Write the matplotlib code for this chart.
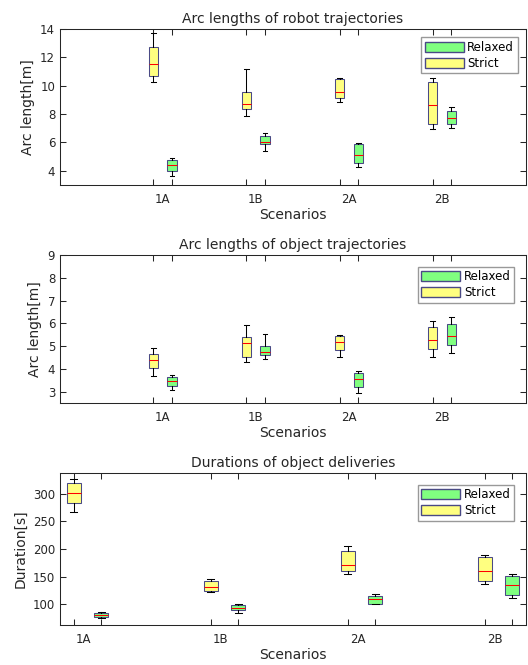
"""Box plots of arc lengths and durations per scenario (Relaxed vs Strict)."""

import matplotlib
matplotlib.use("Agg")
import matplotlib.pyplot as plt
from matplotlib.patches import Patch

scenarios = ["1A", "1B", "2A", "2B"]

# each entry: (whisker low, q1, median, q3, whisker high)
robot_strict = [(10.26, 10.68, 11.52, 12.76, 13.70),
                (7.88, 8.37, 8.72, 9.56, 11.17),
                (8.86, 9.14, 9.56, 10.45, 10.52),
                (6.97, 7.32, 8.65, 10.26, 10.52)]
robot_relaxed = [(3.60, 4.02, 4.40, 4.79, 4.91),
                 (5.43, 5.89, 6.06, 6.43, 6.69),
                 (4.30, 4.58, 5.10, 5.92, 5.96),
                 (6.99, 7.32, 7.69, 8.23, 8.51)]

object_strict = [(3.70, 4.05, 4.41, 4.66, 4.92),
                 (4.31, 4.53, 5.14, 5.39, 5.94),
                 (4.53, 4.81, 5.17, 5.43, 5.49),
                 (4.53, 4.88, 5.27, 5.83, 6.10)]
object_relaxed = [(3.06, 3.25, 3.45, 3.66, 3.75),
                  (4.44, 4.62, 4.74, 5.01, 5.55),
                  (2.92, 3.22, 3.57, 3.83, 3.92),
                  (4.71, 5.06, 5.46, 5.97, 6.28)]

duration_strict = [(267, 284, 302, 319, 327),
                   (122, 124, 131, 141, 145),
                   (155, 160, 171, 197, 205),
                   (137, 142, 160, 185, 189)]
duration_relaxed = [(75, 76, 81, 84, 86),
                    (84, 89, 93, 98, 99.4),
                    (100, 100, 110, 115, 118),
                    (111, 117, 135, 151, 155)]

# title, ylabel, strict, relaxed, xlim, ylim, yticks, label offset, legend pad, pixel rows
panels = [
    ("Arc lengths of robot trajectories", "Arc length[m]", robot_strict, robot_relaxed,
     (0, 5), (3, 14), [4, 6, 8, 10, 12, 14], 0.1, 0.7, (29, 185)),
    ("Arc lengths of object trajectories", "Arc length[m]", object_strict, object_relaxed,
     (0, 5), (2.5, 9), [3, 4, 5, 6, 7, 8, 9], 0.1, 1.0, (255, 403)),
    ("Durations of object deliveries", "Duration[s]", duration_strict, duration_relaxed,
     (0.9, 4.3), (62, 338), [100, 150, 200, 250, 300], 0.07, 1.0, (473, 625)),
]

STRICT_COLOR = "#ffff80"
RELAXED_COLOR = "#80ff80"
EDGE = "#4a4a85"
TEXT = "#262626"
LW = 0.75

W, H = 528, 665
plt.rcParams["font.family"] = "DejaVu Sans"
fig = plt.figure(figsize=(W / 100, H / 100), dpi=100)


def to_stats(rows):
    return [dict(whislo=r[0], q1=r[1], med=r[2], q3=r[3], whishi=r[4], fliers=[]) for r in rows]


for title, ylabel, strict, relaxed, xlim, ylim, yticks, off, pad, (top, bottom) in panels:
    ax = fig.add_axes([60 / W, 1 - bottom / H, 466 / W, (bottom - top) / H])
    n = len(scenarios)
    pos_strict = [i + 1.0 for i in range(n)]
    pos_relaxed = [i + 1.2 for i in range(n)]
    centers = [i + 1.0 + off for i in range(n)]

    for stats, pos, color in [(strict, pos_strict, STRICT_COLOR),
                              (relaxed, pos_relaxed, RELAXED_COLOR)]:
        ax.bxp(to_stats(stats), positions=pos, widths=0.1, patch_artist=True,
               showfliers=False, manage_ticks=False,
               boxprops=dict(facecolor=color, edgecolor=EDGE, linewidth=LW),
               medianprops=dict(color="red", linewidth=LW),
               whiskerprops=dict(color="black", linewidth=LW),
               capprops=dict(color="black", linewidth=LW), capwidths=0.05)

    ax.set_xlim(*xlim)
    ax.set_ylim(*ylim)
    ax.set_yticks(yticks)

    # tick marks sit at the boxes, labels at the group centres
    ax.set_xticks(sorted(pos_strict + pos_relaxed))
    ax.set_xticklabels([])
    ax.tick_params(axis="x", which="major", direction="in", length=4, width=LW,
                   top=True, bottom=True, color=TEXT)
    ax.set_xticks(centers, minor=True)
    ax.set_xticklabels(scenarios, minor=True)
    ax.tick_params(axis="x", which="minor", length=0, pad=6, labelsize=8.5, labelcolor=TEXT)
    ax.tick_params(axis="y", direction="in", length=4, width=LW, right=True,
                   labelsize=8.5, colors=TEXT)
    for s in ax.spines.values():
        s.set_color(TEXT)
        s.set_linewidth(LW)

    ax.set_title(title, fontsize=10, color=TEXT, pad=4)
    ax.set_xlabel("Scenarios", fontsize=10, color=TEXT, labelpad=1)
    ax.set_ylabel(ylabel, fontsize=10, color=TEXT)

    handles = [Patch(facecolor=RELAXED_COLOR, edgecolor=EDGE, label="Relaxed"),
               Patch(facecolor=STRICT_COLOR, edgecolor=EDGE, label="Strict")]
    leg = ax.legend(handles=handles, loc="upper right", fontsize=8.5, handlelength=3.3,
                    handleheight=0.95, fancybox=False, framealpha=1, borderaxespad=pad,
                    labelspacing=0.25, handletextpad=0.3, borderpad=0.3)
    leg.get_frame().set_edgecolor("#999999")

fig.savefig("out.png", dpi=100)
